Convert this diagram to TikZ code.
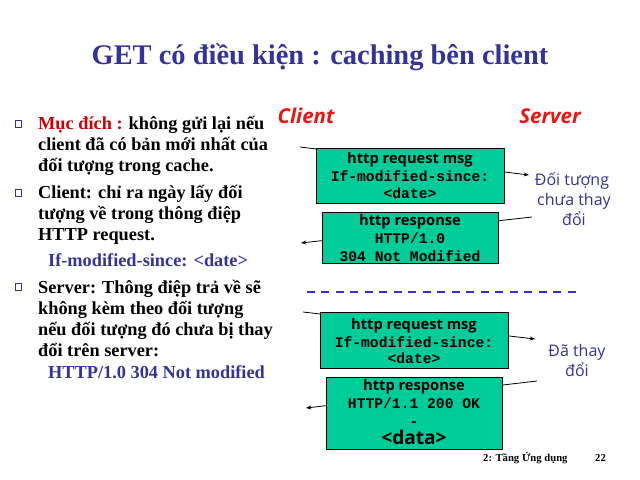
\documentclass[tikz,border=0pt]{standalone}
\usepackage{fontspec}
\setmainfont{Liberation Serif}
\newfontfamily\handfont{Open Sans}
\newfontfamily\codefont{Liberation Mono}
\usetikzlibrary{arrows.meta}
\definecolor{slideblue}{RGB}{51,51,153}
\definecolor{msggreen}{RGB}{0,204,153}
\definecolor{labelred}{RGB}{235,20,20}
\definecolor{aimred}{RGB}{204,0,0}
\definecolor{dashblue}{RGB}{51,51,204}

\begin{document}
\begin{tikzpicture}[x=1.125pt,y=-1.125pt,
  txt/.style={anchor=base west,inner sep=0pt},
  ctr/.style={anchor=base,inner sep=0pt},
  bodytext/.style={txt,font=\bfseries\fontsize{20.6}{24}\selectfont},
  codeline/.style={txt,font=\bfseries\fontsize{20.6}{24}\selectfont,text=slideblue},
  bulletbox/.style={draw=slideblue,fill=white,line width=0.9pt,minimum size=7pt,inner sep=0pt},
  msgbox/.style={draw=black,fill=msggreen,line width=0.8pt,inner sep=0pt,anchor=north west},
  msgtitle/.style={ctr,font=\handfont\bfseries\fontsize{16.5}{18}\selectfont},
  msgcode/.style={ctr,font=\codefont\bfseries\fontsize{16.5}{18}\selectfont},
  note/.style={ctr,font=\handfont\fontsize{18}{20}\selectfont,text=slideblue},
  party/.style={ctr,font=\handfont\bfseries\itshape\fontsize{23}{26}\selectfont,text=labelred},
  msgline/.style={line width=0.9pt,-{Stealth[length=6pt,width=4.5pt]}},
  footer/.style={txt,font=\bfseries\fontsize{12}{14}\selectfont},
]
\useasboundingbox (0,0) rectangle (640,480);

% title
\node[ctr,font=\bfseries\fontsize{32}{38}\selectfont,text=slideblue] (title) at (320,65)
  {GET có điều kiện : caching bên client};

% bullet list
\node[bulletbox] (b1) at (18.5,124) {};
\node[bodytext] (p1a) at (38,130) {\textcolor{aimred}{Mục đích :} không gửi lại nếu};
\node[bodytext] (p1b) at (38,151) {client đã có bản mới nhất của};
\node[bodytext] (p1c) at (38,172) {đối tượng trong cache.};

\node[bulletbox] (b2) at (18.5,193) {};
\node[bodytext] (p2a) at (38,198) {Client: chỉ ra ngày lấy đối};
\node[bodytext] (p2b) at (38,219) {tượng về trong thông điệp};
\node[bodytext] (p2c) at (38,240) {HTTP request.};
\node[codeline] (p2d) at (48,266) {If-modified-since: <date>};

\node[bulletbox] (b3) at (18.5,287) {};
\node[bodytext] (p3a) at (38,293) {Server: Thông điệp trả về sẽ};
\node[bodytext] (p3b) at (38,314) {không kèm theo đối tượng};
\node[bodytext] (p3c) at (38,335) {nếu đối tượng đó chưa bị thay};
\node[bodytext] (p3d) at (38,356) {đổi trên server:};
\node[codeline] (p3e) at (48,378) {HTTP/1.0 304 Not modified};

% parties
\node[party] (client) at (306,124) {Client};
\node[party] (server) at (550,124) {Server};

% message lines, drawn beneath the boxes
\coordinate (c1) at (300,147);
\coordinate (s1) at (529,175);
\coordinate (s2) at (532,217);
\coordinate (c2) at (301,243);
\coordinate (c3) at (303,312);
\coordinate (s3) at (535,339);
\coordinate (s4) at (537,381);
\coordinate (c4) at (306,408);
\draw[msgline] (c1) -- (s1);
\draw[msgline] (s2) -- (c2);
\draw[msgline] (c3) -- (s3);
\draw[msgline] (s4) -- (c4);

% first exchange: object unchanged
\node[msgbox,minimum width=211.5pt,minimum height=61.875pt] (req1) at (316,148) {};
\node[msgtitle] (req1t) at (410,164) {http request msg};
\node[msgcode] (req1h) at (410,182) {If-modified-since:};
\node[msgcode] (req1d) at (410,199) {<date>};

\node[msgbox,minimum width=198pt,minimum height=57.375pt] (res1) at (322,212) {};
\node[msgtitle] (res1t) at (410,225) {http response};
\node[msgcode] (res1s) at (410,243) {HTTP/1.0};
\node[msgcode] (res1c) at (410,261) {304 Not Modified};

\node[note] (n1a) at (572,186) {Đối tượng};
\node[note] (n1b) at (574,206) {chưa thay};
\node[note] (n1c) at (574,226) {đổi};

% separator
\coordinate (sepL) at (307,292);
\coordinate (sepR) at (582,292);
\draw[dashblue,line width=2pt,dash pattern=on 9pt off 7.3pt] (sepL) -- (sepR);

% second exchange: object modified
\node[msgbox,minimum width=211.5pt,minimum height=63pt] (req2) at (320,312) {};
\node[msgtitle] (req2t) at (414,329) {http request msg};
\node[msgcode] (req2h) at (414,347) {If-modified-since:};
\node[msgcode] (req2d) at (414,363) {<date>};

\node[msgbox,minimum width=198pt,minimum height=81pt] (res2) at (326,377) {};
\node[msgtitle] (res2t) at (414,390) {http response};
\node[msgcode] (res2s) at (414,408) {HTTP/1.1 200 OK};
\node[msgcode] (res2g) at (414,426) {-};
\node[msgtitle,font=\handfont\bfseries\fontsize{21.5}{24}\selectfont] (res2d) at (414,444) {<data>};

\node[note] (n2a) at (577,356) {Đã thay};
\node[note] (n2b) at (577,376) {đổi};

% footer
\node[footer] (foot) at (483,461) {2: Tầng Ứng dụng};
\node[footer] (page) at (595,461) {22};
\end{tikzpicture}
\end{document}
